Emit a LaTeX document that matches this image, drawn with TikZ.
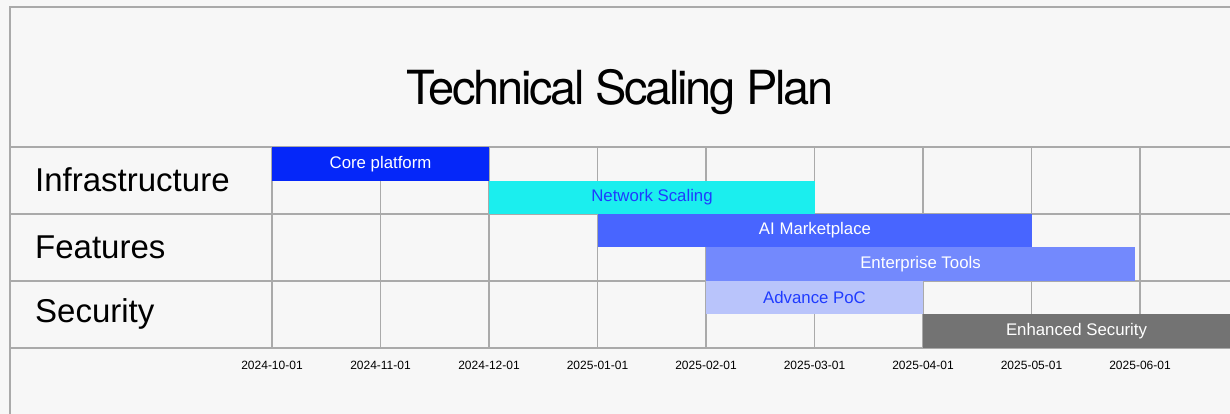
\documentclass[tikz,border=0pt]{standalone}
\usepackage{fontspec}
\setmainfont{Liberation Sans}
\newfontfamily\titlefont[LetterSpace=-5]{TeX Gyre Heros}
\newfontfamily\barfont{Liberation Sans}
\definecolor{bg}{HTML}{F7F7F7}
\definecolor{gridc}{HTML}{AAAAAA}
\definecolor{cA}{HTML}{0527F9}
\definecolor{cB}{HTML}{1BEEEE}
\definecolor{cC}{HTML}{4865FF}
\definecolor{cD}{HTML}{7389FD}
\definecolor{cE}{HTML}{B9C4FB}
\definecolor{cF}{HTML}{737373}
\definecolor{tblue}{HTML}{1F3BFF}
\tikzset{
  gridline/.style={draw=gridc, line width=1.8pt},
  bar/.style={inner sep=0pt, outer sep=0pt, font=\barfont\fontsize{16.8}{19}\selectfont, text=white},
  rowlabel/.style={anchor=west, inner sep=0pt, font=\fontsize{33}{36}\selectfont},
  datelabel/.style={anchor=center, inner sep=0pt, font=\fontsize{12}{14}\selectfont},
}
\begin{document}
\begin{tikzpicture}[x=1pt,y=-1pt]
\fill[bg] (0,0) rectangle (1230,414);
\useasboundingbox (0,0) rectangle (1230,414);
% frame
\coordinate (tl) at (10,7);
\coordinate (tr) at (1230,7);
\coordinate (bl) at (10,414);
\draw[gridline] (tr) -- (tl) -- (bl);
% horizontal lines
\foreach \y/\n in {147/h1,214/h2,281/h3,348/h4}{
  \coordinate (\n a) at (10,\y);
  \coordinate (\n b) at (1230,\y);
  \draw[gridline] (\n a) -- (\n b);
}
% vertical lines and dates
\foreach \x/\d [count=\i] in {272/2024-10-01,380.5/2024-11-01,489/2024-12-01,597.5/2025-01-01,706/2025-02-01,814.5/2025-03-01,923/2025-04-01,1031.5/2025-05-01,1140/2025-06-01}{
  \coordinate (v\i a) at (\x,147);
  \coordinate (v\i b) at (\x,348);
  \draw[gridline] (v\i a) -- (v\i b);
  \node[datelabel] (d\i) at (\x,365) {\d};
}
% title
\node[font=\titlefont\fontsize{47}{52}\selectfont, inner sep=0pt] (title) at (620,92) {Technical Scaling Plan};
% row labels
\node[rowlabel] (r1) at (35,180) {Infrastructure};
\node[rowlabel] (r2) at (35,247) {Features};
\node[rowlabel] (r3) at (35,314) {Security};
% bars
\begin{scope}
\clip (0,0) rectangle (1230,414);
\node[bar, fill=cA, minimum width=217pt, minimum height=34pt] (b1) at (380.5,164) {Core platform};
\node[bar, fill=cB, minimum width=326pt, minimum height=33pt, text=tblue] (b2) at (652,197.5) {Network Scaling};
\node[bar, fill=cC, minimum width=434pt, minimum height=33pt] (b3) at (815,230.5) {AI Marketplace};
\node[bar, fill=cD, minimum width=429pt, minimum height=34pt] (b4) at (920.5,264) {Enterprise Tools};
\node[bar, fill=cE, minimum width=217pt, minimum height=33pt, text=tblue] (b5) at (814.5,297.5) {Advance PoC};
\node[bar, fill=cF, minimum width=307pt, minimum height=34pt] (b6) at (1076.5,331) {Enhanced Security};
\end{scope}
\end{tikzpicture}
\end{document}
